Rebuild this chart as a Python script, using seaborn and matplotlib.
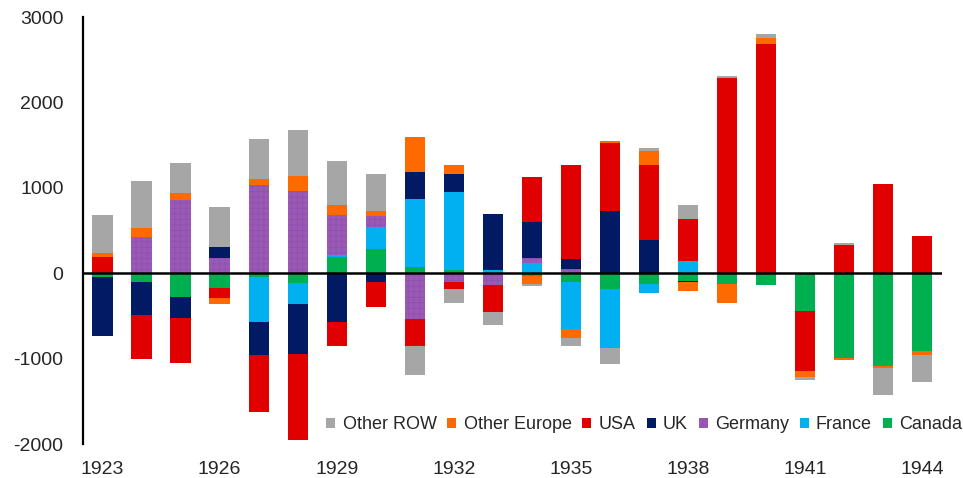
import numpy as np
import pandas as pd
import seaborn as sns
import matplotlib.pyplot as plt
from matplotlib.patches import Patch

years = list(range(1923, 1945))

canada = [-40, -106, -275, -170, -50, -118, 195, 286, 71, 32, 0, -35,
          -102, -184, -122, -94, -122, -141, -447, -996, -1086, -910]
france = [0, 0, 0, 0, -518, -243, 20, 259, 796, 918, 32, 122,
          -553, -686, -110, 141, 0, 0, 0, 0, 0, 0]
germany = [0, 427, 862, 176, 1035, 965, 470, 126, -533, -102, -141, 62,
           55, 0, 0, 0, 0, 0, 0, 0, 0, 0]
uk = [-700, -385, -255, 130, -392, -580, -568, -102, 321, 212, 659, 419,
      106, 729, 388, -12, 0, 0, 0, 0, 0, 0]
usa = [195, -510, -518, -125, -667, -1008, -286, -298, -318, -78, -318, 518,
       1109, 800, 882, 494, 2290, 2682, -698, 329, 1039, 438]
other_europe = [40, 98, 82, -67, 63, 172, 110, 59, 404, 110, 0, -86,
                -106, 20, 165, -98, -231, 70, -71, -24, -20, -47]
other_row = [450, 560, 341, 470, 470, 537, 514, 432, -341, -173, -153, -24,
             -90, -196, 32, 168, 25, 47, -35, 24, -322, -322]

# stacking order from the zero line outwards
series_names = ["Canada", "France", "Germany", "UK", "USA", "Other Europe", "Other ROW"]
series_vals = [canada, france, germany, uk, usa, other_europe, other_row]
colors = {"Canada": "#00B050", "France": "#00B0F0", "Germany": "#9B59B6",
          "UK": "#021A63", "USA": "#E00000", "Other Europe": "#FF6A00",
          "Other ROW": "#A6A6A6"}
legend_order = ["Other ROW", "Other Europe", "USA", "UK", "Germany", "France", "Canada"]

sns.set_style("white")
plt.rcParams["font.family"] = ["Liberation Sans", "DejaVu Sans"]
plt.rcParams["axes.unicode_minus"] = False
plt.rcParams["hatch.linewidth"] = 0.5

df = pd.DataFrame(dict(zip(series_names, series_vals)), index=years)
pos = df.clip(lower=0).cumsum(axis=1)
neg = df.clip(upper=0).cumsum(axis=1)
labels = [str(y) for y in years]

fig = plt.figure(figsize=(9.63, 4.78), dpi=100)
ax = fig.add_axes([0.0862, 0.0711, 0.8918, 0.8933])

# painter's approach: draw outer cumulative totals first, inner layers on top
for name in reversed(series_names):
    kw = dict(color=colors[name], width=0.52, saturation=1, linewidth=0, ax=ax)
    if name == "Germany":
        kw.update(hatch="+++", edgecolor="#8E4FAD")
    sns.barplot(x=labels, y=pos[name].values, **kw)
    sns.barplot(x=labels, y=neg[name].values, **kw)

ax.axhline(0, color="black", lw=1.8, zorder=5)
ax.set_xlim(-0.5, 21.5)
ax.set_ylim(-2000, 3000)
ax.set_yticks(np.arange(-2000, 3001, 1000))
ax.set_xticks(range(0, 22, 3))
ax.set_xticklabels([labels[i] for i in range(0, 22, 3)])
ax.tick_params(axis="both", length=0, labelsize=14)
ax.tick_params(axis="x", pad=12)
ax.tick_params(axis="y", pad=14)
for s in ["top", "right", "bottom"]:
    ax.spines[s].set_visible(False)
ax.spines["left"].set_color("black")
ax.spines["left"].set_linewidth(1.6)
ax.set_xlabel("")
ax.set_ylabel("")

handles = []
for name in legend_order:
    if name == "Germany":
        handles.append(Patch(facecolor=colors[name], edgecolor="#8E4FAD", hatch="+++",
                             linewidth=0, label=name))
    else:
        handles.append(Patch(facecolor=colors[name], linewidth=0, label=name))
fig.legend(handles=handles, loc="center right", bbox_to_anchor=(0.999, 0.111),
           ncol=7, frameon=False, fontsize=13, handlelength=0.5, handleheight=0.5,
           handletextpad=0.4, columnspacing=0.6, borderpad=0, borderaxespad=0)

fig.savefig("out.png", dpi=100)
